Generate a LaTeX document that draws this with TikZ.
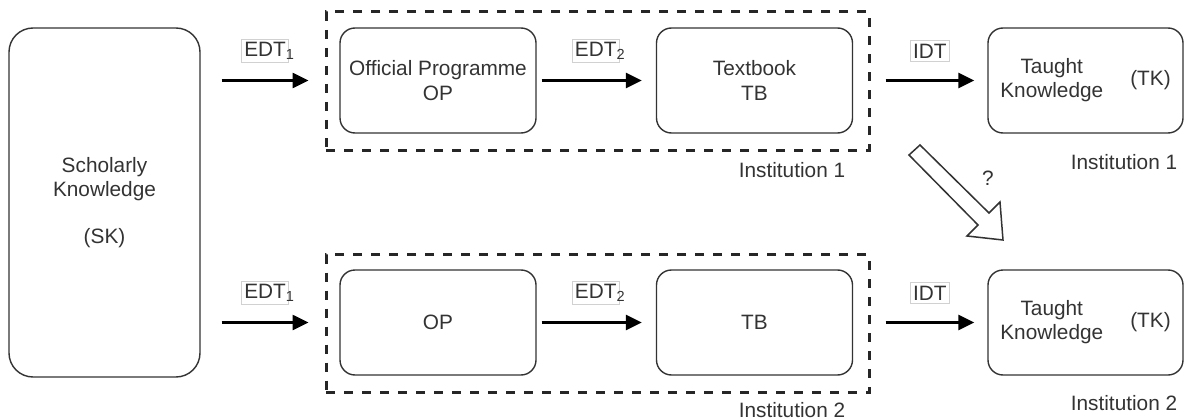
\documentclass[tikz,border=0pt]{standalone}
\usepackage{fontspec}
\setmainfont{Liberation Sans}
\usetikzlibrary{arrows.meta}

\definecolor{ink}{HTML}{333333}

\tikzset{
  every node/.style={font=\fontsize{20.8}{24.5}\selectfont, text=ink},
  roundbox/.style={draw=ink, line width=1.4pt, rounded corners=15pt,
    align=center, minimum width=196pt, minimum height=105pt, inner sep=0pt},
  frame/.style={draw=black!85, line width=3pt, dash pattern=on 9pt off 9pt,
    minimum width=543pt, minimum height=138pt, inner sep=0pt},
  flow/.style={draw=black, line width=2.6pt,
    -{Triangle[length=16pt,width=15pt]}},
  tag/.style={draw=black!18, line width=0.8pt, fill=white,
    inner xsep=2.5pt, inner ysep=3pt},
  caption/.style={inner sep=0pt}
}

\begin{document}
\begin{tikzpicture}[x=1pt, y=-1pt]
\useasboundingbox (0,0) rectangle (1192,420);

% scholarly knowledge, shared by both institutions
\node[roundbox, rounded corners=24pt, minimum width=191pt, minimum height=349pt]
  (sk) at (104.5,202.5) {Scholarly\\Knowledge\\[22pt](SK)};

% ---------- institution 1 ----------
\node[frame] (f1) at (597.5,81) {};
\node[roundbox] (op1) at (438,80.5) {Official Programme\\OP};
\node[roundbox] (tb1) at (754.5,80.5) {Textbook\\TB};
\node[roundbox, minimum width=195pt] (tk1) at (1085.5,80.5)
  {\begin{tabular}{@{}c@{}}Taught\\Knowledge\end{tabular}\hspace{27pt}(TK)};

\coordinate (a1s) at ([xshift=21pt]sk.east |- op1.west);
\coordinate (a1e) at ([xshift=-16pt]f1.west |- op1.west);
\draw[flow] (a1s) -- (a1e)
  node[tag, midway, yshift=29.5pt] {EDT\rlap{\textsubscript{1}}};
\draw[flow] ([xshift=5pt]op1.east) -- ([xshift=-14pt]tb1.west)
  node[tag, midway, yshift=29.5pt, xshift=4pt] {EDT\rlap{\textsubscript{2}}};
\draw[flow] ([xshift=15pt]f1.east |- tb1.east) -- ([xshift=-13pt]tk1.west)
  node[tag, midway, yshift=29.5pt] {IDT};

\node[caption] (inst1a) at (792,170) {Institution 1};
\node[caption] (inst1b) at (1124,162) {Institution 1};

% ---------- institution 2 ----------
\node[frame] (f2) at (597.5,323.5) {};
\node[roundbox] (op2) at (438,322.5) {OP};
\node[roundbox] (tb2) at (754.5,322.5) {TB};
\node[roundbox, minimum width=195pt] (tk2) at (1085.5,322.5)
  {\begin{tabular}{@{}c@{}}Taught\\Knowledge\end{tabular}\hspace{27pt}(TK)};

\coordinate (a2s) at ([xshift=21pt]sk.east |- op2.west);
\coordinate (a2e) at ([xshift=-16pt]f2.west |- op2.west);
\draw[flow] (a2s) -- (a2e)
  node[tag, midway, yshift=29.5pt] {EDT\rlap{\textsubscript{1}}};
\draw[flow] ([xshift=5pt]op2.east) -- ([xshift=-14pt]tb2.west)
  node[tag, midway, yshift=29.5pt, xshift=4pt] {EDT\rlap{\textsubscript{2}}};
\draw[flow] ([xshift=15pt]f2.east |- tb2.east) -- ([xshift=-13pt]tk2.west)
  node[tag, midway, yshift=29.5pt] {IDT};

\node[caption] (inst2a) at (792,410) {Institution 2};
\node[caption] (inst2b) at (1124,403) {Institution 2};

% open block arrow: is taught knowledge transferable between institutions?
\draw[draw=ink, line width=1.5pt, fill=white, line join=miter]
  (920,145) -- (989,213) -- (1000,202) -- (1003,240) -- (967,236)
  -- (978,225) -- (909,155) -- cycle;
\node[caption] (q) at (988,178) {?};
\end{tikzpicture}
\end{document}
